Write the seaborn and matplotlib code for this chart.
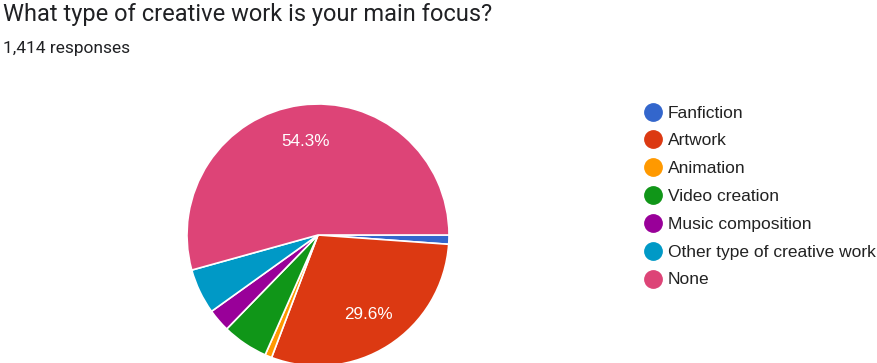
import matplotlib
matplotlib.use("Agg")
import matplotlib.pyplot as plt
from matplotlib.lines import Line2D
import seaborn as sns

# Survey answers (counts out of 1,414 responses)
categories = ["Fanfiction", "Artwork", "Animation", "Video creation",
              "Music composition", "Other type of creative work", "None"]
counts = [16, 419, 12, 80, 40, 79, 768]
colors = ["#3366cc", "#dc3912", "#ff9900", "#109618",
          "#990099", "#0099c6", "#dd4477"]

title = "What type of creative work is your main focus?"
subtitle = "1,414 responses"

sns.set_theme(style="white")
plt.rcParams["font.family"] = ["Roboto", "DejaVu Sans"]
palette = sns.color_palette(colors)
chart_font = ["Liberation Sans", "DejaVu Sans"]

W, H = 877, 363
fig = plt.figure(figsize=(W / 100, H / 100), dpi=100)

# Pie centred at (318, 235) px with radius 131 px
cx, cy, r = 318, 235, 131
ax = fig.add_axes([(cx - r) / W, (H - cy - r) / H, 2 * r / W, 2 * r / H])


def fmt(p):
    return f"{p:.1f}%" if p >= 10 else ""


wedges, texts, autotexts = ax.pie(
    counts, colors=palette, startangle=0, counterclock=False,
    autopct=fmt, pctdistance=0.72,
    wedgeprops=dict(edgecolor="white", linewidth=1.2),
    textprops=dict(color="white", fontsize=12.3, family=chart_font),
)
ax.set_xlim(-1, 1)
ax.set_ylim(-1, 1)
ax.set_aspect("equal")
ax.axis("off")

fig.text(3 / W, 1 - 21 / H, title, fontsize=17, color="#202124",
         ha="left", va="baseline")
fig.text(3 / W, 1 - 52.5 / H, subtitle, fontsize=12.5, color="#202124",
         ha="left", va="baseline")

# Legend: circle markers with labels, stacked vertically
y0, dy = 111.7, 27.8
for i, (lab, col) in enumerate(zip(categories, palette)):
    y = 1 - (y0 + i * dy) / H
    fig.add_artist(Line2D([652.5 / W], [y], marker="o", markersize=12.5,
                          color=col, linestyle="none",
                          transform=fig.transFigure))
    fig.text(668 / W, y, lab, fontsize=12.5, color="#222222",
             family=chart_font, ha="left", va="center_baseline")

fig.savefig("out.png", dpi=100)
